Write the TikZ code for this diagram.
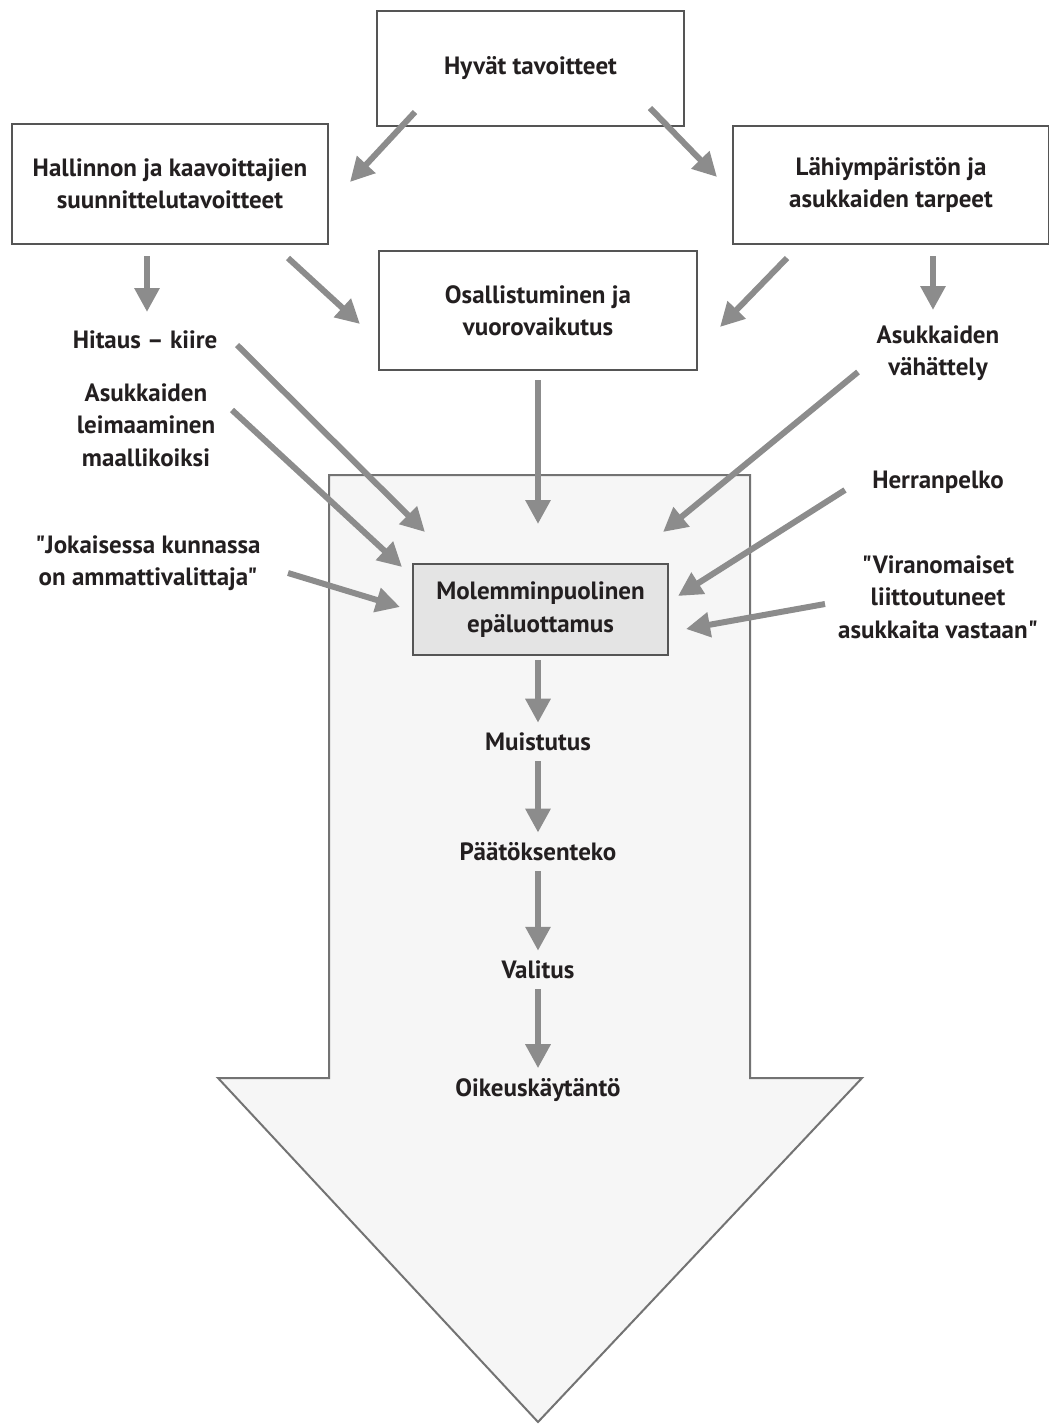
\documentclass[tikz,border=0pt]{standalone}
\usepackage{fontspec}
\setmainfont[Ligatures=TeXOff]{PT Sans}
\usetikzlibrary{arrows.meta}
\definecolor{boxline}{HTML}{555555}
\definecolor{arrgray}{HTML}{8C8C8C}
\definecolor{bigfill}{HTML}{F6F6F6}
\definecolor{midfill}{HTML}{E4E4E4}
\definecolor{txt}{HTML}{231F20}
\tikzset{
  lbl/.style={font=\bfseries\fontsize{25}{32.5}\selectfont, text=txt, align=center, inner sep=0pt},
  boxnode/.style={draw=boxline, line width=2pt, fill=white, lbl},
  arr/.style={draw=arrgray, line width=6pt, -{Triangle[length=24pt,width=24pt]}},
}
\begin{document}
\begin{tikzpicture}[x=1pt,y=-1pt]
\useasboundingbox (0,0) rectangle (1049,1425);
% big arrow
\draw[draw=gray!90!black, line width=2pt, fill=bigfill, line join=miter]
  (329,475) -- (750,475) -- (750,1078) -- (862,1078) -- (538,1422) -- (218,1078) -- (329,1078) -- cycle;

% boxes
\node[boxnode, minimum width=307pt, minimum height=115pt] (hyva) at (530.5,68.5) {Hyvät tavoitteet};
\node[boxnode, minimum width=316pt, minimum height=120pt] (hall) at (170,184) {Hallinnon ja kaavoittajien\\suunnittelutavoitteet};
\node[boxnode, minimum width=316pt, minimum height=118pt] (lahi) at (891,185) {Lähiympäristön ja\\asukkaiden tarpeet};
\node[boxnode, minimum width=318pt, minimum height=119pt] (osal) at (538,310.5) {Osallistuminen ja\\vuorovaikutus};
\node[boxnode, fill=midfill, minimum width=255pt, minimum height=91pt] (mol) at (540.5,609.5) {Molemminpuolinen\\epäluottamus};

% labels
\node[lbl] (hit) at (145,340) {Hitaus – kiire};
\node[lbl] (leim) at (146,425) {Asukkaiden\\leimaaminen\\maallikoiksi};
\node[lbl] (joka) at (148,563) {"Jokaisessa kunnassa\\on ammattivalittaja"};
\node[lbl] (vah) at (938,353) {Asukkaiden\\vähättely};
\node[lbl] (herr) at (938,482) {Herranpelko};
\node[lbl] (viran) at (938,597) {"Viranomaiset\\liittoutuneet\\asukkaita vastaan"};
\node[lbl] (muis) at (538,742) {Muistutus};
\node[lbl] (paat) at (538,852) {Päätöksenteko};
\node[lbl] (val) at (538,970) {Valitus};
\node[lbl] (oik) at (538,1090) {Oikeuskäytäntö};

% connector endpoints
\coordinate (a1s) at (415,112); \coordinate (a1e) at (350,182);
\coordinate (a2s) at (650,108); \coordinate (a2e) at (717,177);
\coordinate (a3s) at (147,256); \coordinate (a3e) at (147,312);
\coordinate (a4s) at (288,258); \coordinate (a4e) at (360,324);
\coordinate (a5s) at (787,258); \coordinate (a5e) at (720,327);
\coordinate (a6s) at (933,256); \coordinate (a6e) at (933,310);
\coordinate (a7s) at (237,345); \coordinate (a7e) at (425,532);
\coordinate (a8s) at (232,410); \coordinate (a8e) at (402,567);
\coordinate (a9s) at (288,573); \coordinate (a9e) at (400,607);
\coordinate (a10s) at (538,380); \coordinate (a10e) at (538,524);
\coordinate (a11s) at (858,372); \coordinate (a11e) at (663,532);
\coordinate (a12s) at (845,490); \coordinate (a12e) at (678,596);
\coordinate (a13s) at (825,604); \coordinate (a13e) at (686,629);

\draw[arr] (a1s) -- (a1e);
\draw[arr] (a2s) -- (a2e);
\draw[arr] (a3s) -- (a3e);
\draw[arr] (a4s) -- (a4e);
\draw[arr] (a5s) -- (a5e);
\draw[arr] (a6s) -- (a6e);
\draw[arr] (a7s) -- (a7e);
\draw[arr] (a8s) -- (a8e);
\draw[arr] (a9s) -- (a9e);
\draw[arr] (a10s) -- (a10e);
\draw[arr] (a11s) -- (a11e);
\draw[arr] (a12s) -- (a12e);
\draw[arr] (a13s) -- (a13e);

\draw[arr, shorten <=4pt, shorten >=10pt] (mol.south -| muis) -- (muis.north);
\draw[arr, shorten <=10pt, shorten >=10pt] (muis.south) -- (paat.north);
\draw[arr, shorten <=10pt, shorten >=10pt] (paat.south) -- (val.north);
\draw[arr, shorten <=10pt, shorten >=10pt] (val.south) -- (oik.north);
\end{tikzpicture}
\end{document}
